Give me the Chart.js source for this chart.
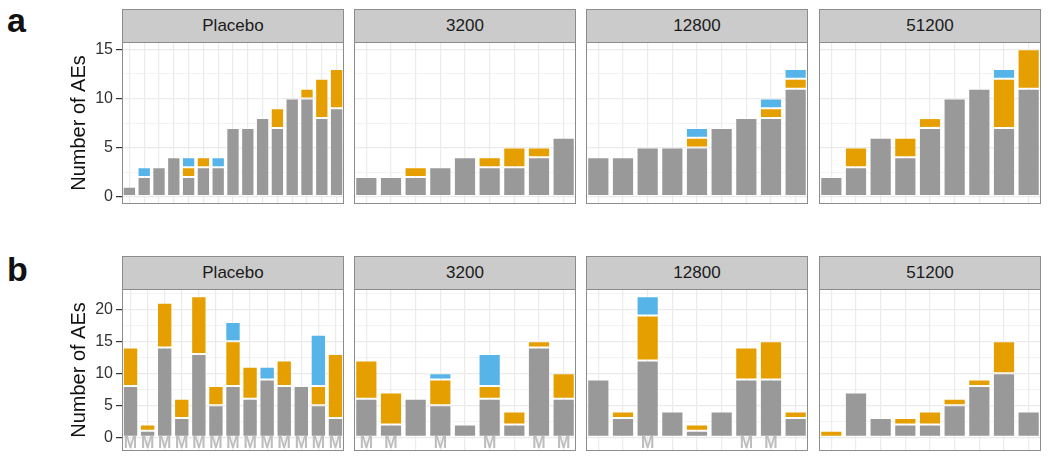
<!DOCTYPE html>
<html>
<head>
<meta charset="utf-8">
<script src="https://cdn.jsdelivr.net/npm/chart.js@4.4.1/dist/chart.umd.min.js"></script>
<style>
    body { margin: 0; background: #fff; width: 1050px; height: 460px; position: relative; overflow: hidden;
           font-family: "Liberation Sans", Arial, sans-serif; }
    .box { position: absolute; }
    .strip { position: absolute; box-sizing: border-box; border: 1px solid #8c8c8c; background: #cbcbcb;
             color: #1a1a1a; font-size: 17px; text-align: center; line-height: 32px; }
    .tag { position: absolute; font-weight: bold; font-size: 34px; color: #111; line-height: 1; }
</style>
</head>
<body>
<div class="tag" style="left:7px; top:3px;">a</div>
<div class="tag" style="left:7px; top:252px;">b</div>
<script>
const doses = ['Placebo', '3200', '12800', '51200'];

// panel a: one array per dose, one value per subject
const aGray   = [[1, 2, 3, 4, 2, 3, 3, 7, 7, 8, 7, 10, 10, 8, 9],
                 [2, 2, 2, 3, 4, 3, 3, 4, 6],
                 [4, 4, 5, 5, 5, 7, 8, 8, 11],
                 [2, 3, 6, 4, 7, 10, 11, 7, 11]];
const aOrange = [[0, 0, 0, 0, 1, 1, 0, 0, 0, 0, 2, 0, 1, 4, 4],
                 [0, 0, 1, 0, 0, 1, 2, 1, 0],
                 [0, 0, 0, 0, 1, 0, 0, 1, 1],
                 [0, 2, 0, 2, 1, 0, 0, 5, 4]];
const aBlue   = [[0, 1, 0, 0, 1, 0, 1, 0, 0, 0, 0, 0, 0, 0, 0],
                 [0, 0, 0, 0, 0, 0, 0, 0, 0],
                 [0, 0, 0, 0, 1, 0, 0, 1, 1],
                 [0, 0, 0, 0, 0, 0, 0, 1, 0]];

// panel b
const bGray   = [[8, 1, 14, 3, 13, 5, 8, 6, 9, 8, 8, 5, 3],
                 [6, 2, 6, 5, 2, 6, 2, 14, 6],
                 [9, 3, 12, 4, 1, 4, 9, 9, 3],
                 [0, 7, 3, 2, 2, 5, 8, 10, 4]];
const bOrange = [[6, 1, 7, 3, 9, 3, 7, 5, 0, 4, 0, 3, 10],
                 [6, 5, 0, 4, 0, 2, 2, 1, 4],
                 [0, 1, 7, 0, 1, 0, 5, 6, 1],
                 [1, 0, 0, 1, 2, 1, 1, 5, 0]];
const bBlue   = [[0, 0, 0, 0, 0, 0, 3, 0, 2, 0, 0, 8, 0],
                 [0, 0, 0, 1, 0, 5, 0, 0, 0],
                 [0, 0, 3, 0, 0, 0, 0, 0, 0],
                 [0, 0, 0, 0, 0, 0, 0, 0, 0]];
const bMarks  = [[1, 1, 1, 1, 1, 1, 1, 1, 1, 1, 1, 1, 1],
                 [1, 1, 0, 1, 0, 1, 0, 1, 1],
                 [0, 0, 1, 0, 0, 0, 1, 1, 0],
                 [0, 0, 0, 0, 0, 0, 0, 0, 0]];

const ticksA = [0, 5, 10, 15];
const gridA  = [0, 2.5, 5, 7.5, 10, 12.5, 15];
const ticksB = [0, 5, 10, 15, 20];
const gridB  = [0, 2.5, 5, 7.5, 10, 12.5, 15, 17.5, 20, 22.5];

const FONT = '"Liberation Sans", Arial, sans-serif';
const panelLeft = [122, 354, 586, 819];
const panelW = 222;
const panelH = 162;
const mY = -1;

const rows = [
    { gray: aGray, orange: aOrange, blue: aBlue, marks: null, min: -0.75, max: 15.75, grid: gridA, labels: ticksA, stripTop: 9, top: 42 },
    { gray: bGray, orange: bOrange, blue: bBlue, marks: bMarks, min: -2.15, max: 23.15, grid: gridB, labels: ticksB, stripTop: 256, top: 289 }
];

const framePlugin = {
    id: 'frame',
    afterDraw(chart) {
        const { ctx, chartArea: a } = chart;
        ctx.save();
        ctx.strokeStyle = '#8c8c8c';
        ctx.lineWidth = 1;
        ctx.strokeRect(a.left + 0.5, a.top + 0.5, a.right - a.left - 1, a.bottom - a.top - 1);
        ctx.restore();
    }
};

const markPlugin = {
    id: 'marks',
    afterDatasetsDraw(chart, args, opts) {
        if (!opts.flags) return;
        const { ctx, scales: { x, y } } = chart;
        ctx.save();
        ctx.fillStyle = '#bdbdbd';
        ctx.font = 'bold 16px ' + FONT;
        ctx.textAlign = 'center';
        ctx.textBaseline = 'middle';
        opts.flags.forEach((f, i) => {
            if (f) ctx.fillText('M', x.getPixelForValue(i), y.getPixelForValue(mY));
        });
        ctx.restore();
    }
};

const clean = arr => arr.map(v => v === 0 ? null : v);

// no label padding, the plot area fills the box exactly
const noPad = s => { s.paddingTop = 0; s.paddingBottom = 0; s.paddingLeft = 0; s.paddingRight = 0; };

function makePanel(row, d) {
    const first = d === 0;
    const axisW = first ? 72 : 0;

    const strip = document.createElement('div');
    strip.className = 'strip';
    strip.style.left = panelLeft[d] + 'px';
    strip.style.top = row.stripTop + 'px';
    strip.style.width = panelW + 'px';
    strip.style.height = (row.top - row.stripTop + 1) + 'px';
    strip.textContent = doses[d];
    document.body.appendChild(strip);

    const box = document.createElement('div');
    box.className = 'box';
    box.style.left = (panelLeft[d] - axisW) + 'px';
    box.style.top = row.top + 'px';
    box.style.width = (panelW + axisW) + 'px';
    box.style.height = panelH + 'px';
    const cv = document.createElement('canvas');
    box.appendChild(cv);
    document.body.appendChild(box);

    const seg = (data, color) => ({
        data: clean(data),
        backgroundColor: color,
        borderColor: 'rgba(255,255,255,0.35)',
        borderWidth: 1,
        borderSkipped: false,
        barPercentage: 0.9,
        categoryPercentage: 1
    });

    new Chart(cv, {
        type: 'bar',
        data: {
            labels: row.gray[d].map((v, i) => 'S' + (i + 1)),
            datasets: [
                seg(row.gray[d], '#999999'),
                seg(row.orange[d], '#E69F00'),
                seg(row.blue[d], '#56B4E9')
            ]
        },
        options: {
            responsive: true,
            maintainAspectRatio: false,
            animation: false,
            layout: { padding: 0 },
            plugins: {
                legend: { display: false },
                tooltip: { enabled: false },
                marks: { flags: row.marks ? row.marks[d] : null }
            },
            scales: {
                x: {
                    stacked: true,
                    grid: { offset: false, color: '#ebebeb', lineWidth: 1.2, drawTicks: false },
                    border: { display: false },
                    ticks: { display: false },
                    afterFit: s => { s.height = 0; noPad(s); }
                },
                y: {
                    stacked: true,
                    min: row.min,
                    max: row.max,
                    afterBuildTicks: s => { s.ticks = row.grid.map(v => ({ value: v })); },
                    ticks: {
                        display: first,
                        autoSkip: false,
                        padding: 3,
                        color: '#333',
                        font: { size: 16, family: FONT },
                        callback: v => row.labels.includes(v) ? String(v) : ''
                    },
                    grid: {
                        color: '#ebebeb',
                        lineWidth: c => row.labels.includes(c.tick.value) ? 1.2 : 0.6,
                        drawTicks: first,
                        tickLength: 6,
                        tickWidth: 1.2,
                        tickColor: c => row.labels.includes(c.tick.value) ? '#333' : 'rgba(0,0,0,0)'
                    },
                    border: { display: false },
                    title: {
                        display: first,
                        text: 'Number of AEs',
                        color: '#111',
                        font: { size: 20, family: FONT },
                        padding: { top: 17, bottom: 0 }
                    },
                    afterFit: s => { s.width = axisW; noPad(s); }
                }
            }
        },
        plugins: [framePlugin, markPlugin]
    });
}

rows.forEach(row => doses.forEach((dose, d) => makePanel(row, d)));
</script>
</body>
</html>
